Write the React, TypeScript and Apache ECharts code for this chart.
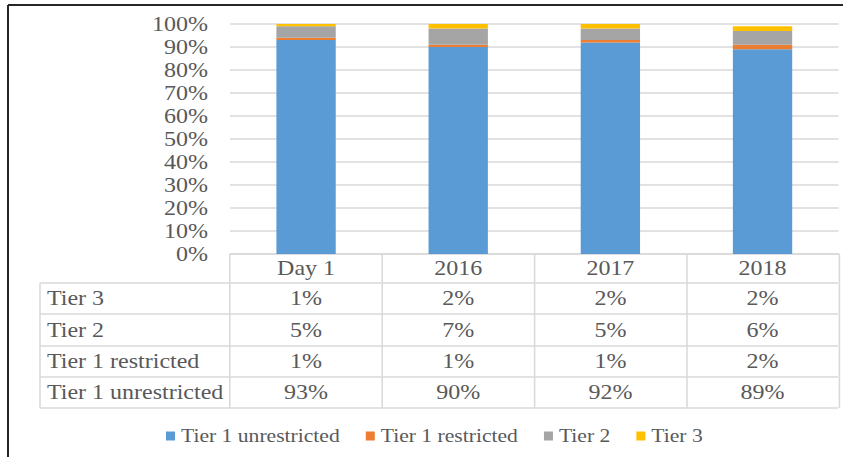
import React, { useEffect, useRef } from "react";
import * as echarts from "echarts";

const categories = ["Day 1", "2016", "2017", "2018"];
const tier1Unrestricted = [93, 90, 92, 89];
const tier1Restricted = [1, 1, 1, 2];
const tier2 = [5, 7, 5, 6];
const tier3 = [1, 2, 2, 2];
const seriesNames = ["Tier 1 unrestricted", "Tier 1 restricted", "Tier 2", "Tier 3"];
const seriesColors = ["#5B9BD5", "#ED7D31", "#A5A5A5", "#FFC000"];
const yTicks = { min: 0, max: 100, interval: 10 };

// table rows top-to-bottom
const tableRows = [
  { name: "Tier 3", values: tier3 },
  { name: "Tier 2", values: tier2 },
  { name: "Tier 1 restricted", values: tier1Restricted },
  { name: "Tier 1 unrestricted", values: tier1Unrestricted },
];

const S = 1.2; // horizontal stretch of the reference
const W = 843 / S;
const H = 457;
const X = (x: number) => x / S;
const FONT = "Liberation Serif";
const TXT = "#595959";
const LINE = "#d9d9d9";

export default function App() {
  const ref = useRef<HTMLDivElement>(null);
  useEffect(() => {
    if (!ref.current) return;
    const chart = echarts.init(ref.current, null, { renderer: "svg" });
    const axisBottom = 254;
    const rowEdges = [283, 314, 346, 377, 408];
    const rowCenters = [298.5, 330, 361.5, 392.5];
    const seriesData = [tier1Unrestricted, tier1Restricted, tier2, tier3];

    const graphics: any[] = [];
    // frame
    graphics.push({ type: "line", shape: { x1: X(8), y1: 5, x2: W + 2, y2: 5 }, style: { stroke: "#262626", lineWidth: 2 } });
    graphics.push({ type: "line", shape: { x1: X(8), y1: 5, x2: X(8), y2: H + 2 }, style: { stroke: "#262626", lineWidth: 1.7 } });
    // table horizontal lines
    rowEdges.forEach((y) => {
      graphics.push({ type: "line", shape: { x1: X(40), y1: y, x2: X(838), y2: y }, style: { stroke: LINE, lineWidth: 1.5 } });
    });
    graphics.push({ type: "line", shape: { x1: X(40), y1: rowEdges[0], x2: X(40), y2: rowEdges[rowEdges.length - 1] }, style: { stroke: LINE, lineWidth: 1.3 } });
    // row labels
    tableRows.forEach((r, i) => {
      graphics.push({
        type: "text",
        x: X(47),
        y: rowCenters[i],
        style: { text: r.name, fill: TXT, fontSize: 20, fontFamily: FONT, verticalAlign: "middle", align: "left" },
      });
    });

    const rowAxes = tableRows.map((r, i) => ({
      type: "category",
      gridIndex: 0,
      position: "bottom",
      data: categories,
      axisLine: { show: false },
      axisTick: { show: false },
      splitLine: { show: false },
      axisLabel: {
        interval: 0,
        margin: rowCenters[i] - axisBottom,
        verticalAlign: "middle",
        fontSize: 20,
        fontFamily: FONT,
        color: TXT,
        formatter: (_v: string, idx: number) => r.values[idx] + "%",
      },
    }));

    chart.setOption({
      animation: false,
      textStyle: { fontFamily: FONT },
      grid: { left: X(230), right: W - X(838), top: 24, bottom: H - axisBottom, containLabel: false },
      legend: {
        data: seriesNames,
        left: X(166),
        top: 427,
        padding: 0,
        itemWidth: 7.5,
        itemHeight: 9,
        itemGap: X(26),
        icon: "rect",
        textStyle: { fontSize: 18, fontFamily: FONT, color: TXT },
      },
      xAxis: [
        {
          type: "category",
          data: categories,
          axisLine: { show: true, lineStyle: { color: LINE, width: 1.5 } },
          axisTick: { show: true, length: rowEdges[rowEdges.length - 1] - axisBottom, lineStyle: { color: LINE, width: 1.3 } },
          axisLabel: { interval: 0, margin: 268.5 - axisBottom, verticalAlign: "middle", fontSize: 20, fontFamily: FONT, color: TXT },
        },
        ...rowAxes,
      ],
      yAxis: {
        type: "value",
        min: yTicks.min,
        max: yTicks.max,
        interval: yTicks.interval,
        axisLine: { show: false },
        axisTick: { show: false },
        splitLine: { lineStyle: { color: LINE, width: 1.5 } },
        axisLabel: { formatter: "{value}%", margin: X(22), fontSize: 20, fontFamily: FONT, color: TXT },
      },
      series: seriesNames.map((name, i) => ({
        name,
        type: "bar",
        stack: "total",
        xAxisIndex: 0,
        barWidth: "39%",
        itemStyle: { color: seriesColors[i] },
        data: seriesData[i],
      })),
      graphic: graphics,
    });
    return () => chart.dispose();
  }, []);

  return (
    <div
      ref={ref}
      style={{
        position: "absolute",
        left: 0,
        top: 0,
        width: W,
        height: H,
        transform: `scaleX(${S})`,
        transformOrigin: "0 0",
        background: "#fff",
      }}
    />
  );
}
